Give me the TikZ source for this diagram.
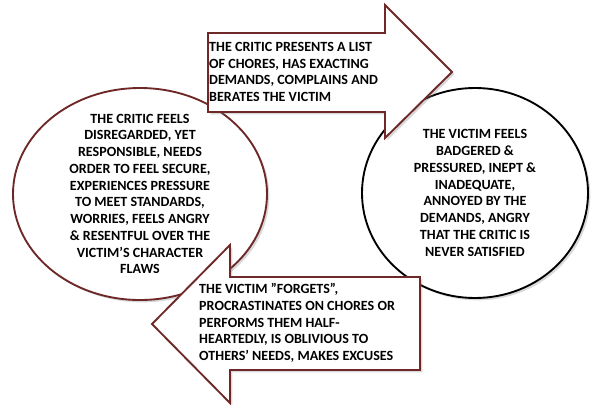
\documentclass[tikz,border=0pt]{standalone}
\usepackage{fontspec}
\setmainfont{Carlito}
\usetikzlibrary{shadows}
\definecolor{maroon}{RGB}{110,40,40}
\tikzset{blob/.style={line width=1.6pt, fill=white,
         drop shadow={shadow xshift=2pt, shadow yshift=-2pt, opacity=0.3}},
         words/.style={font=\bfseries\fontsize{12}{14.3}\selectfont, align=center, inner sep=0pt},
         arrowwords/.style={font=\bfseries\fontsize{12}{14.3}\selectfont, align=left, anchor=west, inner sep=0pt}}
\begin{document}
\begin{tikzpicture}[x=0.03cm, y=-0.03cm]
  \useasboundingbox (0,0) rectangle (600,418);
  % circles
  \draw[blob, draw=maroon] (140,194) ellipse [x radius=127, y radius=106];
  \node[words] (critic) at (140,194) {THE CRITIC FEELS\\DISREGARDED, YET\\RESPONSIBLE, NEEDS\\ORDER TO FEEL SECURE,\\EXPERIENCES PRESSURE\\TO MEET STANDARDS,\\WORRIES, FEELS  ANGRY\\\& RESENTFUL OVER THE\\VICTIM'S CHARACTER\\FLAWS};
  \draw[blob, draw=black] (475,193) ellipse [x radius=113, y radius=105];
  \node[words] (victim) at (475,193) {THE VICTIM FEELS\\BADGERED \&\\PRESSURED,  INEPT \&\\INADEQUATE,\\ANNOYED BY THE\\DEMANDS, ANGRY\\THAT THE CRITIC IS\\NEVER SATISFIED};
  % arrows
  \draw[blob, draw=maroon] (208,33) -- (385,33) -- (385,5) -- (452,72) -- (385,138) -- (385,112) -- (208,112) -- cycle;
  \node[arrowwords] (demands) at (209,72) {THE CRITIC PRESENTS A LIST\\OF CHORES, HAS EXACTING\\DEMANDS, COMPLAINS AND\\BERATES THE VICTIM};
  \draw[blob, draw=maroon] (420,277) -- (230,277) -- (230,245) -- (152,324) -- (230,403) -- (230,370) -- (420,370) -- cycle;
  \node[arrowwords] (excuses) at (199,323) {THE VICTIM \symbol{34}FORGETS\symbol{34},\\PROCRASTINATES ON CHORES OR\\PERFORMS THEM HALF-\\HEARTEDLY, IS OBLIVIOUS TO\\OTHERS' NEEDS, MAKES EXCUSES};
\end{tikzpicture}
\end{document}
